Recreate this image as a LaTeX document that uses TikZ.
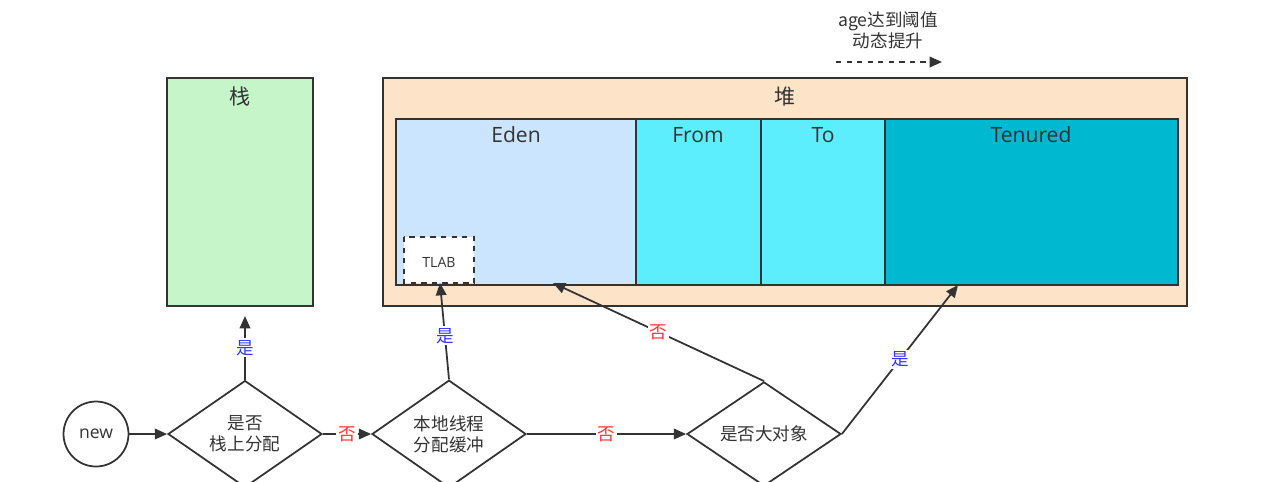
\documentclass[tikz,border=0pt]{standalone}
\usepackage{fontspec}
\setmainfont{Open Sans}
\newfontfamily\cjk{Noto Sans CJK SC}
\usetikzlibrary{shapes.geometric,arrows.meta}
\definecolor{stackgreen}{HTML}{C6F5C9}
\definecolor{heappeach}{HTML}{FDE3C8}
\definecolor{edenblue}{HTML}{CCE5FF}
\definecolor{survcyan}{HTML}{5CEEFC}
\definecolor{tencyan}{HTML}{00B8D0}
\definecolor{yesblue}{HTML}{3333FF}
\definecolor{nored}{HTML}{FF3333}
\tikzset{
  area/.style={draw=black!80, line width=1pt},
  title/.style={font=\cjk\large, text=black!80},
  choice/.style={diamond, draw=black!80, line width=1pt, fill=white,
    minimum width=3.08cm, minimum height=2cm, inner sep=0pt, align=center,
    font=\cjk\normalsize, text=black!80},
  flow/.style={-{Triangle[length=7pt,width=6pt]}, line width=1pt, draw=black!80},
  yes/.style={fill=white, inner sep=1pt, font=\cjk, text=yesblue},
  no/.style={fill=white, inner sep=1pt, font=\cjk, text=nored}
}
\begin{document}
\begin{tikzpicture}[x=0.02cm, y=-0.02cm]
    \useasboundingbox (0,0) rectangle (1280,481);
    % Stack and heap
    \draw[area, fill=stackgreen] (167,78) rectangle (313,306);
    \node[title] (stack) at (240,96) {栈};
    \draw[area, fill=heappeach] (383,78) rectangle (1187,306);
    \node[title] (heap) at (785,97) {堆};
    % Generations
    \draw[area, fill=edenblue] (396,119) rectangle (636,285);
    \draw[area, fill=survcyan] (636,119) rectangle (761,285);
    \draw[area, fill=survcyan] (761,119) rectangle (885,285);
    \draw[area, fill=tencyan] (885,119) rectangle (1178,285);
    \node[font=\large, text=black!80] (eden) at (516,135) {Eden};
    \node[font=\large, text=black!80] (from) at (698,135) {From};
    \node[font=\large, text=black!80] (to) at (823,135) {To};
    \node[font=\large, text=black!80] (tenured) at (1031,135) {Tenured};
    \draw[area, dashed, fill=white] (404,237) rectangle (474,283);
    \node[font=\footnotesize, text=black!80] (tlab) at (439,262) {TLAB};
    % Targets of the flow
    \coordinate (stackIn) at (245,316);
    \coordinate (tlabIn) at (440,283);
    \coordinate (edenIn) at (553,283);
    \coordinate (tenIn) at (958,285);
    % Decision flow
    \node[circle, draw=black!80, line width=1pt, minimum size=1.3cm,
      text=black!80] (new) at (96,434) {new};
    \node[choice] (onstack) at (245,434) {是否\\栈上分配};
    \node[choice] (local) at (449,434) {本地线程\\分配缓冲};
    \node[choice] (big) at (764,434) {是否大对象};
    \draw[flow] (new) -- (onstack);
    \draw[flow] (onstack) -- node[no] {否} (local);
    \draw[flow] (local) -- node[no] {否} (big);
    \draw[flow] (onstack.north) -- node[yes] {是} (stackIn);
    \draw[flow] (local.north) -- node[yes, pos=0.45] {是} (tlabIn);
    \draw[flow] (big.north) -- node[no] {否} (edenIn);
    \draw[flow] (big.east) -- node[yes] {是} (tenIn);
    % Legend
    \node[font=\cjk, align=center, text=black!80] (legend) at (888,30) {age达到阈值\\动态提升};
    \coordinate (legA) at (836,62);
    \coordinate (legB) at (942,62);
    \draw[flow, dashed] (legA) -- (legB);
\end{tikzpicture}
\end{document}
